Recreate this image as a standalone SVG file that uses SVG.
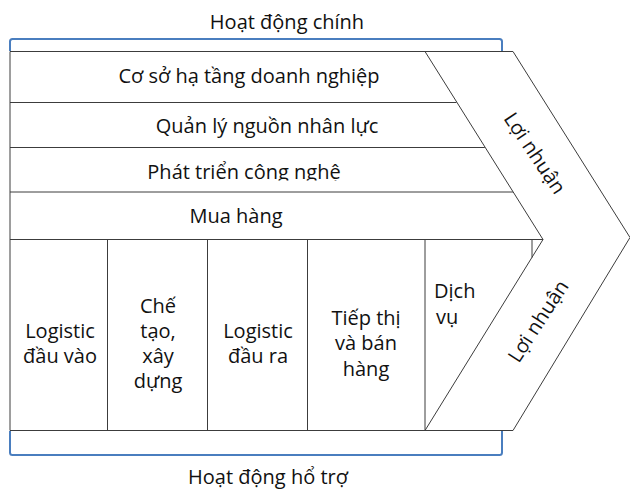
<svg xmlns="http://www.w3.org/2000/svg" width="630" height="491" viewBox="0 0 630 491">
<style>
.t{font-family:"Open Sans","Noto Sans","DejaVu Sans",sans-serif;font-size:20px;fill:#111;}
.m{text-anchor:middle;}
.ln{stroke:#3c3c3c;stroke-width:1;fill:none;}
.br{stroke:#4a7ebf;stroke-width:2;fill:none;}
</style>
<defs>
<clipPath id="clipRow3"><rect x="10" y="150" width="480" height="30.5"/></clipPath>
</defs>
<rect width="630" height="491" fill="#fff"/>
<g id="connectors">
<path class="br" d="M10,51 V41.5 Q10,39 12.5,39 H499.5 Q502,39 502,41.5 V51"/>
<path class="br" d="M10,431 V452.5 Q10,455 12.5,455 H499.5 Q502,455 502,452.5 V431"/>
</g>
<g id="frame">
<polygon class="ln" points="10,51.5 513,51.5 630,237.5 513,430.5 10,430.5"/>
<polyline class="ln" points="425,51.5 543,239.5 425,430.5"/>
<line class="ln" x1="10" y1="102.5" x2="456.5" y2="102.5"/>
<line class="ln" x1="10" y1="147.5" x2="484.8" y2="147.5"/>
<line class="ln" x1="10" y1="192" x2="513" y2="192"/>
<line class="ln" x1="10" y1="239.5" x2="543" y2="239.5"/>
<line class="ln" x1="107.5" y1="239.5" x2="107.5" y2="430.5"/>
<line class="ln" x1="207.5" y1="239.5" x2="207.5" y2="430.5"/>
<line class="ln" x1="307.5" y1="239.5" x2="307.5" y2="430.5"/>
<line class="ln" x1="425" y1="239.5" x2="425" y2="430.5"/>
<line class="ln" x1="532" y1="239.5" x2="532" y2="257.5"/>
</g>
<g id="title-primary"><text class="t m" x="287" y="29">Hoạt động chính</text></g>
<g id="title-support"><text class="t m" x="268" y="484">Hoạt động hổ trợ</text></g>
<g id="row-infrastructure"><text class="t m" x="249" y="83">Cơ sở hạ tầng doanh nghiệp</text></g>
<g id="row-hr"><text class="t m" x="267" y="133">Quản lý nguồn nhân lực</text></g>
<g id="row-tech"><text class="t m" x="244" y="179" clip-path="url(#clipRow3)">Phát triển công nghệ</text></g>
<g id="row-procurement"><text class="t m" x="236" y="223">Mua hàng</text></g>
<g id="cell-inbound"><text class="t m" x="60" y="338">Logistic</text><text class="t m" x="60" y="363">đầu vào</text></g>
<g id="cell-operations"><text class="t m" x="158" y="313">Chế</text><text class="t m" x="158" y="338">tạo,</text><text class="t m" x="158" y="363">xây</text><text class="t m" x="158" y="388">dựng</text></g>
<g id="cell-outbound"><text class="t m" x="258" y="338">Logistic</text><text class="t m" x="258" y="363">đầu ra</text></g>
<g id="cell-marketing"><text class="t m" x="366" y="325">Tiếp thị</text><text class="t m" x="366" y="350">và bán</text><text class="t m" x="366" y="376">hàng</text></g>
<g id="cell-service"><text class="t" x="434" y="298">Dịch</text><text class="t" x="436" y="324">vụ</text></g>
<g id="margin-top"><text class="t m" transform="translate(529,157) rotate(56)">Lợi nhuận</text></g>
<g id="margin-bottom"><text class="t m" transform="translate(544,325) rotate(-57)">Lợi nhuận</text></g>
</svg>
